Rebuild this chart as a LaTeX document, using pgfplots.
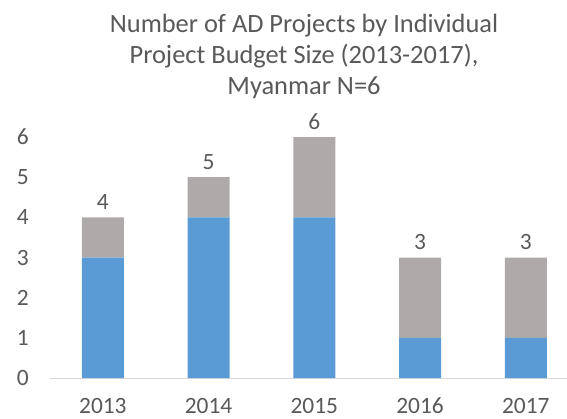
\documentclass[border=0pt]{standalone}
\usepackage{pgfplots}
\pgfplotsset{compat=1.18}
\usepackage{fontspec}
\setmainfont{Carlito}
\definecolor{cblue}{HTML}{5B9BD5}
\definecolor{cgray}{HTML}{AEAAAA}
\definecolor{ctext}{HTML}{595959}
\definecolor{caxis}{HTML}{D9D9D9}
\pgfplotsset{common/.style={
  scale only axis,
  width=517bp, height=241bp,
  xmin=-0.5, xmax=4.39,
  ymin=0, ymax=6,
  clip=false,
  bar width=42bp}}
\begin{document}
\begin{tikzpicture}
\begin{axis}[
  common,
  name=ax,
  ybar stacked,
  axis x line*=bottom,
  axis y line=none,
  x axis line style={caxis, line width=1bp, -},
  xtick=data,
  xticklabels={2013,2014,2015,2016,2017},
  xtick style={draw=none},
  ticklabel style={font=\fontsize{23.5}{27}\selectfont, text=ctext},
  /pgf/number format/assume math mode=true,
  xticklabel style={anchor=base, inner sep=0pt, yshift=-35.5bp},
]
\addplot[fill=cblue, draw=none] coordinates {(0,3) (1,4) (2,4) (3,1) (4,1)};
\addplot[fill=cgray, draw=none] coordinates {(0,1) (1,1) (2,2) (3,2) (4,2)};
\end{axis}
\begin{axis}[
  common,
  hide axis,
  ybar,
]
\addplot[draw=none, fill=none,
  nodes near coords,
  every node near coord/.append style={font=\fontsize{23.5}{27}\selectfont, text=ctext, anchor=base,
    inner sep=0pt, yshift=8bp, /pgf/number format/assume math mode=true}]
  coordinates {(0,4) (1,5) (2,6) (3,3) (4,3)};
\end{axis}
\foreach \v in {0,1,2,3,4,5,6} {
  \node[font=\fontsize{23.5}{27}\selectfont, text=ctext, anchor=east, inner sep=0pt] at ([xshift=-21bp, yshift=\v*241bp/6]ax.south west) {\v};
}
\node[font=\fontsize{26.5}{31}\selectfont, text=ctext, align=center, anchor=south, inner sep=0pt]
  at ([xshift=254bp, yshift=38bp]ax.north west)
  {Number of AD Projects by Individual\\Project Budget Size (2013-2017),\\Myanmar N=6};
\pgfresetboundingbox
\useasboundingbox ([xshift=-50bp, yshift=-41bp]ax.south west) rectangle ([yshift=137bp]ax.north east);
\end{tikzpicture}
\end{document}
